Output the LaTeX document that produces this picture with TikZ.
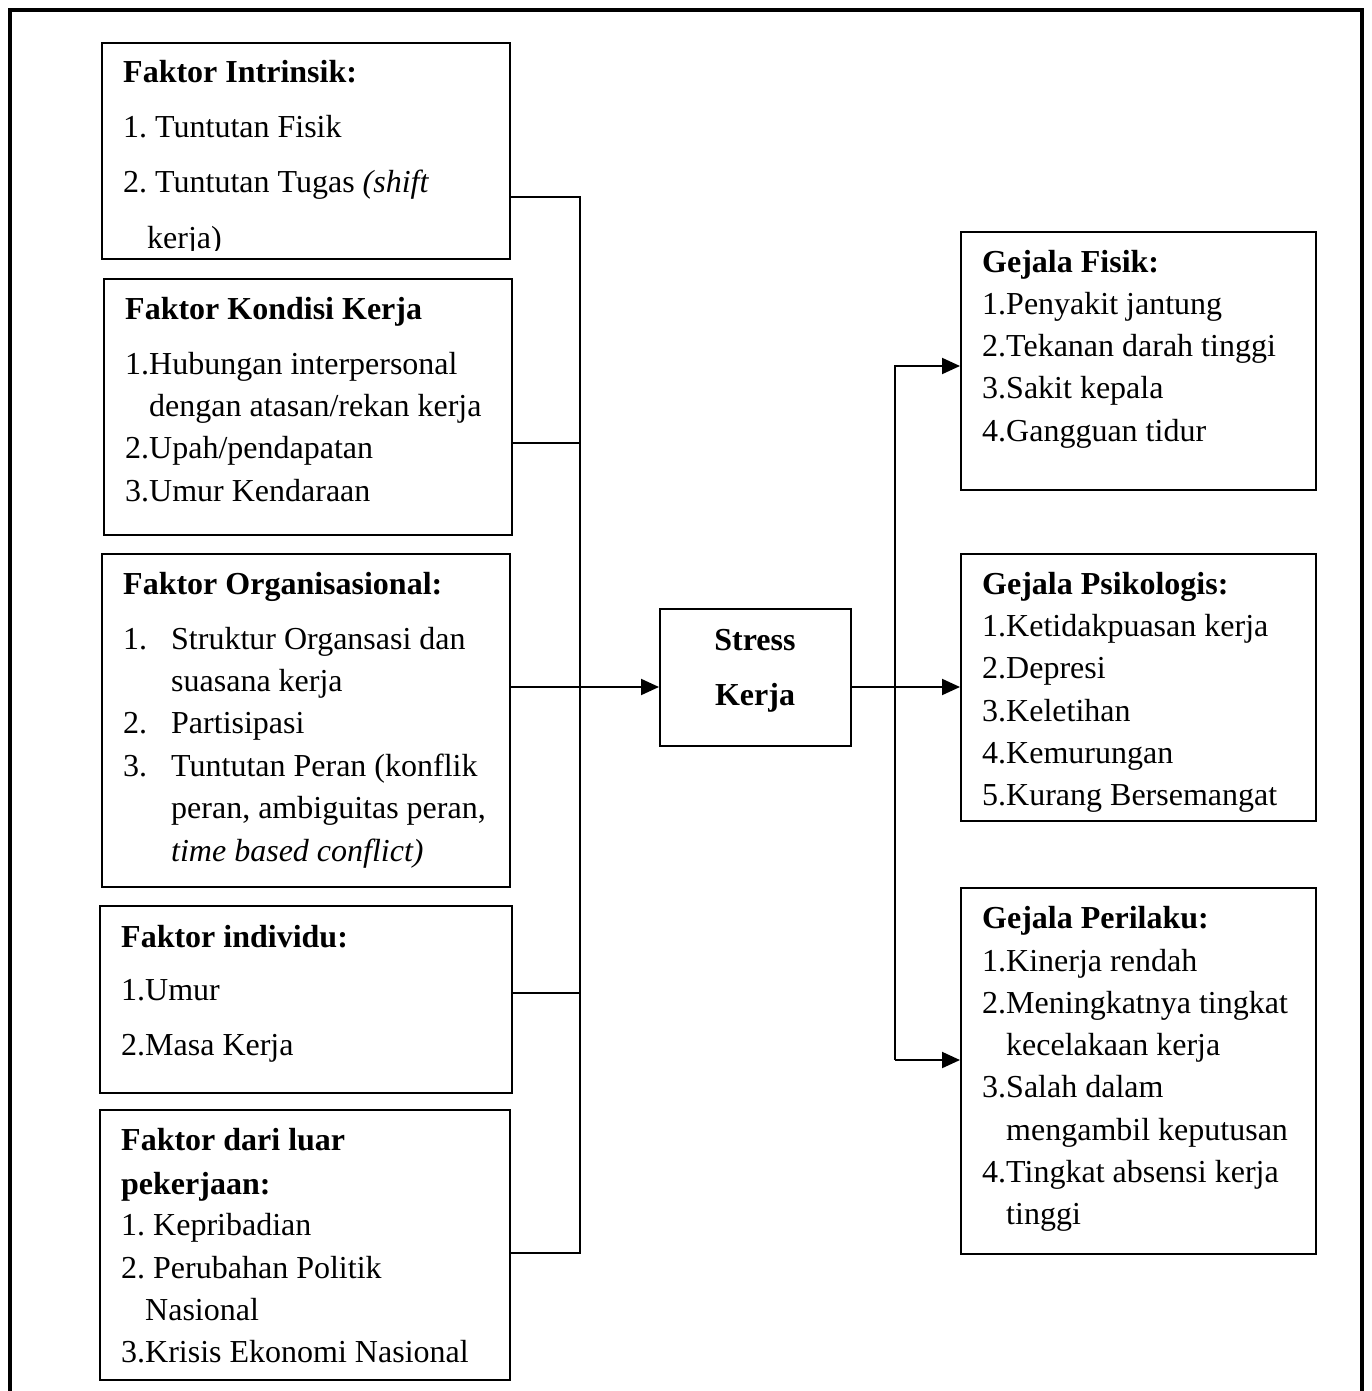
\documentclass[tikz,border=0pt]{standalone}
\usepackage{fontspec}
\setmainfont{Liberation Serif}
\usetikzlibrary{arrows.meta}
\frenchspacing
\begin{document}
\begin{tikzpicture}[x=1pt,y=-1pt,
  box/.style={draw,line width=2pt,rectangle,inner sep=0pt},
  txt/.style={anchor=base west,inner sep=0pt,font=\fontsize{32}{38}\selectfont},
  btxt/.style={txt,font=\fontsize{32}{38}\selectfont\bfseries},
  conn/.style={line width=2pt},
  arr/.style={line width=2pt,-{Triangle[length=18pt,width=16pt]}}]
\useasboundingbox (0,0) rectangle (1371,1391);
\draw[line width=4pt] (10,1395) -- (10,10) -- (1362,10) -- (1362,1395);

% boxes
\node[box,minimum width=408pt,minimum height=216pt] (intr) at (306,151) {};
\node[box,minimum width=408pt,minimum height=256pt] (kond) at (308,407) {};
\node[box,minimum width=408pt,minimum height=333pt] (org) at (306,720.5) {};
\node[box,minimum width=412pt,minimum height=187pt] (indiv) at (306,999.5) {};
\node[box,minimum width=410pt,minimum height=270pt] (luar) at (305,1245) {};
\node[box,minimum width=191pt,minimum height=137pt] (stress) at (755.5,677.5) {};
\node[box,minimum width=355pt,minimum height=258pt] (fisik) at (1138.5,361) {};
\node[box,minimum width=355pt,minimum height=267pt] (psiko) at (1138.5,687.5) {};
\node[box,minimum width=355pt,minimum height=366pt] (peril) at (1138.5,1071) {};

% Intrinsik
\node[btxt] (t11) at (123,83) {Faktor Intrinsik:};
\node[txt] (t12) at (123,138) {1. Tuntutan Fisik};
\node[txt] (t13) at (123,193) {2. Tuntutan Tugas \textit{(shift}};
\begin{scope}
\clip (104,45) rectangle (508,250);
\node[txt] (t14) at (147,248) {kerja)};
\end{scope}

% Kondisi
\node[btxt] (t21) at (125,319) {Faktor Kondisi Kerja};
\node[txt] (t22) at (125,374) {1.Hubungan interpersonal};
\node[txt] (t23) at (149,416) {dengan atasan/rekan kerja};
\node[txt] (t24) at (125,458) {2.Upah/pendapatan};
\node[txt] (t25) at (125,501) {3.Umur Kendaraan};

% Organisasional
\node[btxt] (t31) at (123,594) {Faktor Organisasional:};
\node[txt] (t32n) at (123,649) {1.};
\node[txt] (t32) at (171,649) {Struktur Organsasi dan};
\node[txt] (t33) at (171,691) {suasana kerja};
\node[txt] (t34n) at (123,733) {2.};
\node[txt] (t34) at (171,733) {Partisipasi};
\node[txt] (t35n) at (123,776) {3.};
\node[txt] (t35) at (171,776) {Tuntutan Peran (konflik};
\node[txt] (t36) at (171,818) {peran, ambiguitas peran,};
\node[txt] (t37) at (171,861) {\textit{time based conflict)}};

% Individu
\node[btxt] (t41) at (121,947) {Faktor individu:};
\node[txt] (t42) at (121,1000) {1.Umur};
\node[txt] (t43) at (121,1055) {2.Masa Kerja};

% Luar
\node[btxt] (t51) at (121,1150) {Faktor dari luar};
\node[btxt] (t52) at (121,1194) {pekerjaan:};
\node[txt] (t53) at (121,1235) {1. Kepribadian};
\node[txt] (t54) at (121,1278) {2. Perubahan Politik};
\node[txt] (t55) at (145,1320) {Nasional};
\node[txt] (t56) at (121,1362) {3.Krisis Ekonomi Nasional};

% Stress
\node[btxt,anchor=base] (s1) at (755,650) {Stress};
\node[btxt,anchor=base] (s2) at (755,705) {Kerja};

% Fisik
\node[btxt] (f1) at (982,272) {Gejala Fisik:};
\node[txt] (f2) at (982,314) {1.Penyakit jantung};
\node[txt] (f3) at (982,356) {2.Tekanan darah tinggi};
\node[txt] (f4) at (982,398) {3.Sakit kepala};
\node[txt] (f5) at (982,441) {4.Gangguan tidur};

% Psikologis
\node[btxt] (p1) at (982,594) {Gejala Psikologis:};
\node[txt] (p2) at (982,636) {1.Ketidakpuasan kerja};
\node[txt] (p3) at (982,678) {2.Depresi};
\node[txt] (p4) at (982,721) {3.Keletihan};
\node[txt] (p5) at (982,763) {4.Kemurungan};
\node[txt] (p6) at (982,805) {5.Kurang Bersemangat};

% Perilaku
\node[btxt] (r1) at (982,928) {Gejala Perilaku:};
\node[txt] (r2) at (982,971) {1.Kinerja rendah};
\node[txt] (r3) at (982,1013) {2.Meningkatnya tingkat};
\node[txt] (r4) at (1006,1055) {kecelakaan kerja};
\node[txt] (r5) at (982,1097) {3.Salah dalam};
\node[txt] (r6) at (1006,1140) {mengambil keputusan};
\node[txt] (r7) at (982,1182) {4.Tingkat absensi kerja};
\node[txt] (r8) at (1006,1224) {tinggi};

% bus coordinates
\coordinate (j1) at (580,197);
\coordinate (j2) at (580,443);
\coordinate (j3) at (580,687);
\coordinate (j4) at (580,993);
\coordinate (j5) at (580,1253);
\coordinate (k1) at (895,366);
\coordinate (k2) at (895,687);
\coordinate (k3) at (895,1060);

% left connectors
\draw[conn] (intr.east |- j1) -- (j1) -- (j5) -- (luar.east |- j5);
\draw[conn] (kond.east |- j2) -- (j2);
\draw[conn] (indiv.east |- j4) -- (j4);
\draw[arr] (org.east |- j3) -- (stress.west |- j3);

% right connectors
\draw[arr] (stress.east |- k2) -- (psiko.west |- k2);
\draw[arr] (k3) -- (k1) -- (fisik.west |- k1);
\draw[arr] (k3) -- (peril.west |- k3);
\end{tikzpicture}
\end{document}
